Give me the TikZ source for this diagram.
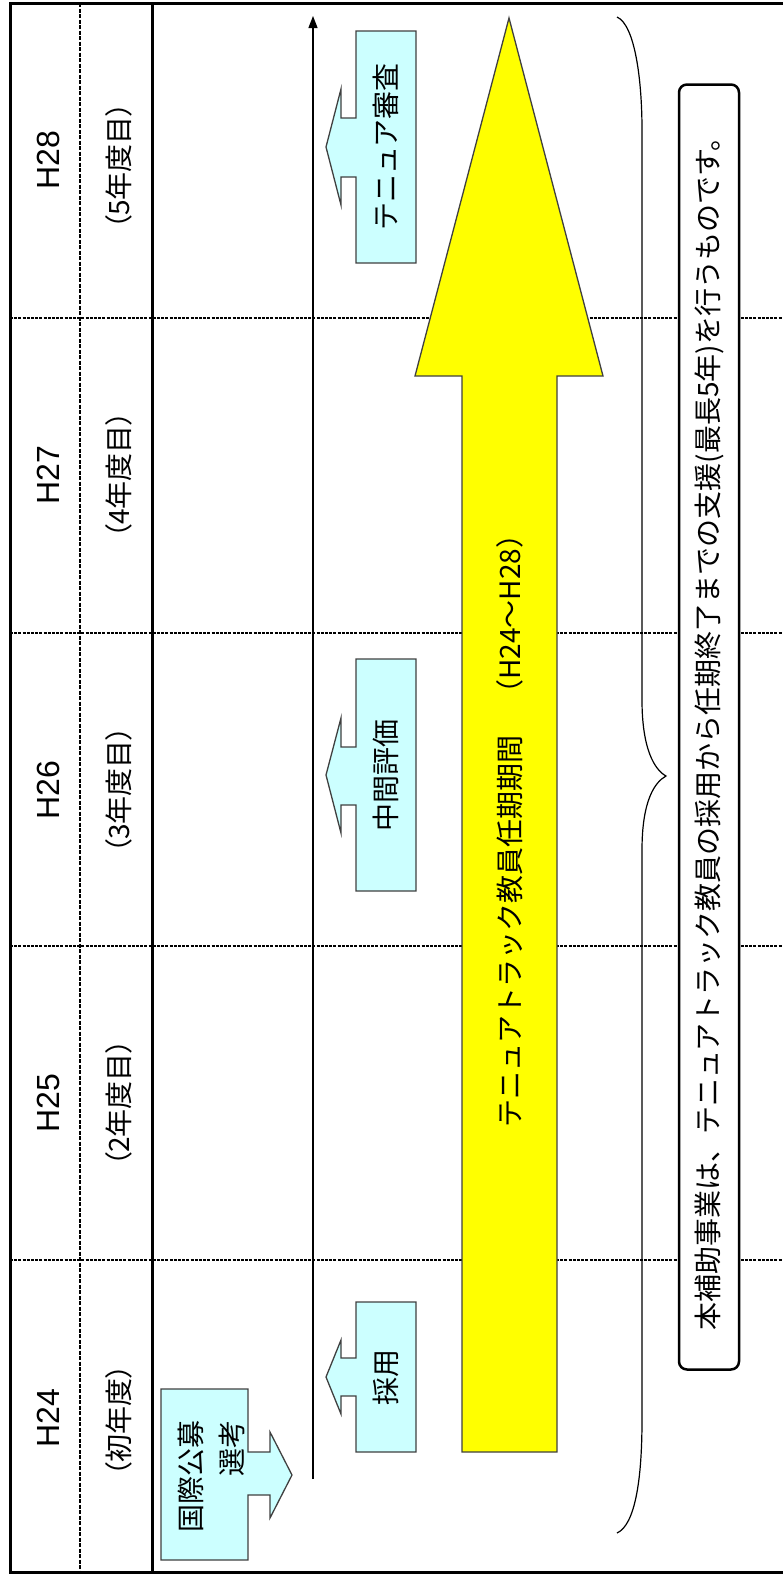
\documentclass[tikz,border=0pt]{standalone}
\usepackage{fontspec}
\setmainfont{Noto Sans CJK JP}
\newfontfamily\jpp{Noto Sans CJK JP}[RawFeature=+palt]
\newfontfamily\lat{Liberation Sans}
\usetikzlibrary{arrows.meta}
\definecolor{lcyan}{HTML}{CCFFFF}
\definecolor{yel}{HTML}{FFFF00}
\begin{document}
\begin{tikzpicture}[x=1pt,y=-1pt,
  frame/.style={line width=3pt},
  hgrid/.style={line width=2.6pt, dash pattern=on 3pt off 1.2pt},
  vgrid/.style={line width=2.6pt, dash pattern=on 4pt off 1.5pt},
  yr/.style={rotate=90, font=\lat\fontsize{32}{36}\selectfont, inner sep=0pt},
  sub/.style={rotate=90, font=\jpp\fontsize{28}{32}\selectfont, inner sep=0pt},
  callout/.style={fill=lcyan, draw=black!75, line width=1.3pt},
  ctext/.style={rotate=90, font=\fontsize{28}{41}\selectfont, inner sep=0pt},
  bigarrow/.style={fill=yel, draw=black!75, line width=1.3pt},
  note/.style={draw, line width=2.5pt, rounded corners=8pt, fill=white, rotate=90,
    minimum width=1285pt, minimum height=60pt, inner sep=0pt, font=\fontsize{28}{32}\selectfont}
]
\useasboundingbox (0,0) rectangle (783,1574);

% grid lines
\foreach \y in {318,633,946,1260} \draw[hgrid] (10,\y) -- (785,\y);
\draw[vgrid] (80,3) -- (80,1572);
\draw[frame] (152,3) -- (152,1572);
\draw[frame] (785,3) -- (10,3) -- (10,1572) -- (785,1572);

% year labels
\node[yr] (h28) at (48,160) {H28};
\node[yr] (h27) at (48,475) {H27};
\node[yr] (h26) at (48,790) {H26};
\node[yr] (h25) at (48,1103) {H25};
\node[yr] (h24) at (48,1418) {H24};
\node[sub] (s28) at (119,166) {（5年度目）};
\node[sub] (s27) at (119,475) {（4年度目）};
\node[sub] (s26) at (119,790) {（3年度目）};
\node[sub] (s25) at (119,1103) {（2年度目）};
\node[sub] (s24) at (119,1420) {（初年度）};

% time axis
\coordinate (t0) at (313,1479);
\coordinate (t1) at (313,16);
\draw[line width=1.3pt, -{Triangle[length=12pt,width=9pt]}] (t0) -- (t1);

% big yellow arrow
\draw[bigarrow] (462,1452) -- (462,376) -- (415,376) -- (509,18) -- (603,376) -- (557,376) -- (557,1452) -- cycle;
\node[ctext] (period) at (510,824) {テニュアトラック教員任期期間　（H24～H28）};

% callouts (left-pointing)
\draw[callout] (416,31) -- (356,31) -- (356,118) -- (341,118) -- (341,89) -- (326,147) -- (341,205) -- (341,177) -- (356,177) -- (356,263) -- (416,263) -- cycle;
\node[ctext] (c1) at (386,147) {テニュア審査};
\draw[callout] (416,659) -- (356,659) -- (356,747) -- (341,747) -- (341,718) -- (326,775) -- (341,833) -- (341,805) -- (356,805) -- (356,891) -- (416,891) -- cycle;
\node[ctext] (c2) at (386,775) {中間評価};
\draw[callout] (416,1302) -- (356,1302) -- (356,1358) -- (341,1358) -- (341,1340) -- (326,1377) -- (341,1414) -- (341,1396) -- (356,1396) -- (356,1452) -- (416,1452) -- cycle;
\node[ctext] (c3) at (386,1377) {採用};

% callout (right-pointing)
\draw[callout] (161,1389) -- (248,1389) -- (248,1452) -- (270,1452) -- (270,1432) -- (292,1475) -- (270,1518) -- (270,1495) -- (248,1495) -- (248,1560) -- (161,1560) -- cycle;
\node[ctext, align=right] (c0) at (211,1476) {国際公募\\選考};

% brace
\draw[line width=1.2pt] (617,17) .. controls (635,25) and (642,80) .. (642,130) -- (642,700)
  .. controls (642,750) and (655,770) .. (666,776)
  .. controls (655,782) and (642,800) .. (642,850) -- (642,1420)
  .. controls (642,1480) and (635,1525) .. (617,1533);

% note
\node[note] (summary) at (709,727) {本補助事業は、テニュアトラック教員の採用から任期終了までの支援(最長5年)を行うものです。};
\end{tikzpicture}
\end{document}
